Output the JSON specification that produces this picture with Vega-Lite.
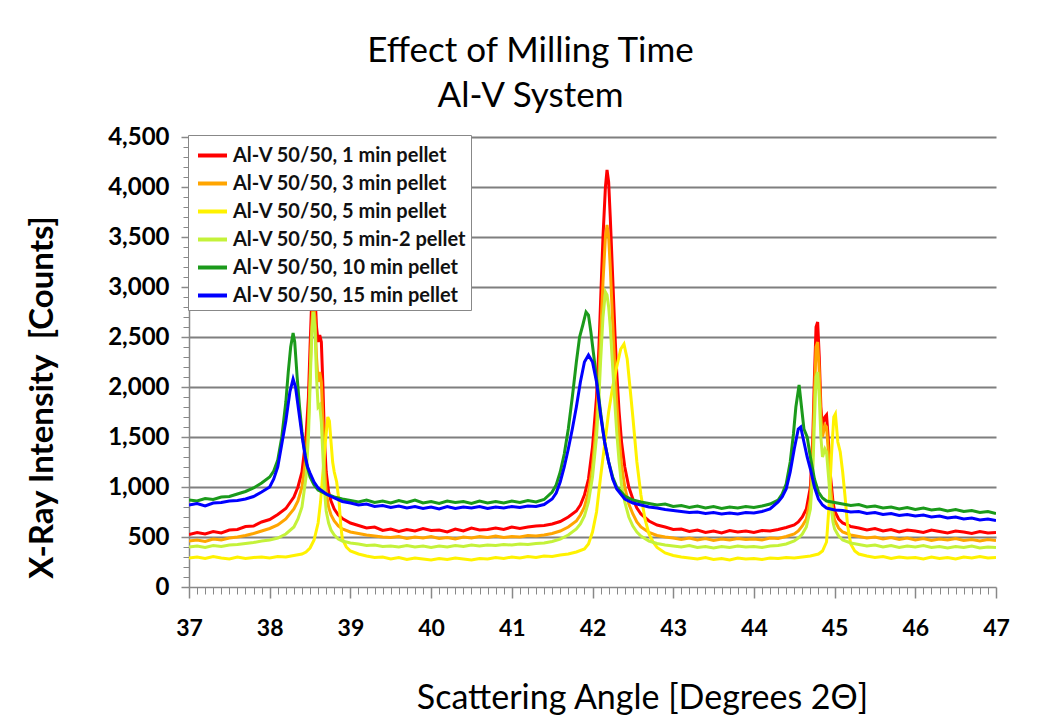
{
"$schema":"https://vega.github.io/schema/vega-lite/v6.json",
"width":807,"height":450,
"autosize":{"type":"none"},
"padding":{"left":189,"top":137,"right":44,"bottom":132},
"background":"#ffffff",
"config":{"view":{"stroke":null},"font":"Lato"},
"title":{"text":["Effect of Milling Time","Al-V System"],"font":"Lato","fontSize":35,"fontWeight":"normal","color":"#000","anchor":"middle","frame":"group","dx":-62,"baseline":"bottom","offset":-24,"lineHeight":45},
"datasets":{
"names":[{"id":"r","label":"Al-V 50/50, 1 min pellet"},{"id":"o","label":"Al-V 50/50, 3 min pellet"},{"id":"y","label":"Al-V 50/50, 5 min pellet"},{"id":"l","label":"Al-V 50/50, 5 min-2 pellet"},{"id":"g","label":"Al-V 50/50, 10 min pellet"},{"id":"b","label":"Al-V 50/50, 15 min pellet"}],
"pts":[
{"id":"r","angle":37,"counts":525},{"id":"r","angle":37.1,"counts":545},{"id":"r","angle":37.2,"counts":530},{"id":"r","angle":37.3,"counts":555},{"id":"r","angle":37.4,"counts":540},{"id":"r","angle":37.5,"counts":570},{"id":"r","angle":37.6,"counts":575},{"id":"r","angle":37.7,"counts":605},{"id":"r","angle":37.8,"counts":610},{"id":"r","angle":37.9,"counts":650},{"id":"r","angle":38,"counts":675},{"id":"r","angle":38.1,"counts":725},{"id":"r","angle":38.2,"counts":785},{"id":"r","angle":38.3,"counts":900},{"id":"r","angle":38.35,"counts":1000},{"id":"r","angle":38.4,"counts":1150},{"id":"r","angle":38.45,"counts":1500},{"id":"r","angle":38.48,"counts":1900},{"id":"r","angle":38.5,"counts":2400},{"id":"r","angle":38.52,"counts":2850},{"id":"r","angle":38.54,"counts":3000},{"id":"r","angle":38.56,"counts":2950},{"id":"r","angle":38.58,"counts":2600},{"id":"r","angle":38.6,"counts":2450},{"id":"r","angle":38.62,"counts":2520},{"id":"r","angle":38.64,"counts":2450},{"id":"r","angle":38.66,"counts":2000},{"id":"r","angle":38.68,"counts":1450},{"id":"r","angle":38.7,"counts":1150},{"id":"r","angle":38.73,"counts":950},{"id":"r","angle":38.76,"counts":860},{"id":"r","angle":38.8,"counts":780},{"id":"r","angle":38.85,"counts":720},{"id":"r","angle":38.9,"counts":685},{"id":"r","angle":39,"counts":640},{"id":"r","angle":39.1,"counts":615},{"id":"r","angle":39.2,"counts":590},{"id":"r","angle":39.3,"counts":600},{"id":"r","angle":39.4,"counts":565},{"id":"r","angle":39.5,"counts":580},{"id":"r","angle":39.6,"counts":555},{"id":"r","angle":39.7,"counts":575},{"id":"r","angle":39.8,"counts":560},{"id":"r","angle":39.9,"counts":585},{"id":"r","angle":40,"counts":565},{"id":"r","angle":40.1,"counts":570},{"id":"r","angle":40.2,"counts":550},{"id":"r","angle":40.3,"counts":580},{"id":"r","angle":40.4,"counts":560},{"id":"r","angle":40.5,"counts":590},{"id":"r","angle":40.6,"counts":570},{"id":"r","angle":40.7,"counts":575},{"id":"r","angle":40.8,"counts":590},{"id":"r","angle":40.9,"counts":575},{"id":"r","angle":41,"counts":600},{"id":"r","angle":41.1,"counts":585},{"id":"r","angle":41.2,"counts":600},{"id":"r","angle":41.3,"counts":610},{"id":"r","angle":41.4,"counts":615},{"id":"r","angle":41.5,"counts":630},{"id":"r","angle":41.6,"counts":655},{"id":"r","angle":41.7,"counts":700},{"id":"r","angle":41.8,"counts":760},{"id":"r","angle":41.85,"counts":820},{"id":"r","angle":41.9,"counts":920},{"id":"r","angle":41.95,"counts":1080},{"id":"r","angle":42,"counts":1400},{"id":"r","angle":42.05,"counts":1900},{"id":"r","angle":42.08,"counts":2400},{"id":"r","angle":42.1,"counts":2850},{"id":"r","angle":42.13,"counts":3500},{"id":"r","angle":42.16,"counts":4000},{"id":"r","angle":42.18,"counts":4170},{"id":"r","angle":42.2,"counts":4050},{"id":"r","angle":42.22,"counts":3700},{"id":"r","angle":42.25,"counts":3100},{"id":"r","angle":42.28,"counts":2500},{"id":"r","angle":42.3,"counts":2150},{"id":"r","angle":42.33,"counts":1750},{"id":"r","angle":42.36,"counts":1450},{"id":"r","angle":42.4,"counts":1200},{"id":"r","angle":42.45,"counts":1000},{"id":"r","angle":42.5,"counts":880},{"id":"r","angle":42.55,"counts":790},{"id":"r","angle":42.6,"counts":730},{"id":"r","angle":42.7,"counts":660},{"id":"r","angle":42.8,"counts":620},{"id":"r","angle":42.9,"counts":600},{"id":"r","angle":43,"counts":575},{"id":"r","angle":43.1,"counts":580},{"id":"r","angle":43.2,"counts":555},{"id":"r","angle":43.3,"counts":570},{"id":"r","angle":43.4,"counts":545},{"id":"r","angle":43.5,"counts":560},{"id":"r","angle":43.6,"counts":540},{"id":"r","angle":43.7,"counts":565},{"id":"r","angle":43.8,"counts":550},{"id":"r","angle":43.9,"counts":560},{"id":"r","angle":44,"counts":545},{"id":"r","angle":44.1,"counts":565},{"id":"r","angle":44.2,"counts":560},{"id":"r","angle":44.3,"counts":575},{"id":"r","angle":44.4,"counts":595},{"id":"r","angle":44.5,"counts":620},{"id":"r","angle":44.55,"counts":650},{"id":"r","angle":44.6,"counts":700},{"id":"r","angle":44.65,"counts":780},{"id":"r","angle":44.7,"counts":1000},{"id":"r","angle":44.73,"counts":1500},{"id":"r","angle":44.75,"counts":2100},{"id":"r","angle":44.77,"counts":2600},{"id":"r","angle":44.79,"counts":2650},{"id":"r","angle":44.81,"counts":2300},{"id":"r","angle":44.83,"counts":1800},{"id":"r","angle":44.85,"counts":1600},{"id":"r","angle":44.88,"counts":1700},{"id":"r","angle":44.9,"counts":1720},{"id":"r","angle":44.92,"counts":1500},{"id":"r","angle":44.95,"counts":1100},{"id":"r","angle":44.98,"counts":850},{"id":"r","angle":45,"counts":760},{"id":"r","angle":45.05,"counts":680},{"id":"r","angle":45.1,"counts":640},{"id":"r","angle":45.2,"counts":605},{"id":"r","angle":45.3,"counts":590},{"id":"r","angle":45.4,"counts":570},{"id":"r","angle":45.5,"counts":585},{"id":"r","angle":45.6,"counts":560},{"id":"r","angle":45.7,"counts":575},{"id":"r","angle":45.8,"counts":550},{"id":"r","angle":45.9,"counts":570},{"id":"r","angle":46,"counts":560},{"id":"r","angle":46.1,"counts":545},{"id":"r","angle":46.2,"counts":570},{"id":"r","angle":46.3,"counts":555},{"id":"r","angle":46.4,"counts":540},{"id":"r","angle":46.5,"counts":560},{"id":"r","angle":46.6,"counts":550},{"id":"r","angle":46.7,"counts":535},{"id":"r","angle":46.8,"counts":555},{"id":"r","angle":46.9,"counts":540},{"id":"r","angle":47,"counts":545},
{"id":"o","angle":37,"counts":460},{"id":"o","angle":37.1,"counts":470},{"id":"o","angle":37.2,"counts":455},{"id":"o","angle":37.3,"counts":480},{"id":"o","angle":37.4,"counts":470},{"id":"o","angle":37.5,"counts":490},{"id":"o","angle":37.6,"counts":500},{"id":"o","angle":37.7,"counts":515},{"id":"o","angle":37.8,"counts":535},{"id":"o","angle":37.9,"counts":560},{"id":"o","angle":38,"counts":585},{"id":"o","angle":38.1,"counts":620},{"id":"o","angle":38.2,"counts":680},{"id":"o","angle":38.3,"counts":780},{"id":"o","angle":38.35,"counts":860},{"id":"o","angle":38.4,"counts":1000},{"id":"o","angle":38.45,"counts":1300},{"id":"o","angle":38.48,"counts":1650},{"id":"o","angle":38.5,"counts":2100},{"id":"o","angle":38.52,"counts":2600},{"id":"o","angle":38.54,"counts":2850},{"id":"o","angle":38.56,"counts":2700},{"id":"o","angle":38.58,"counts":2300},{"id":"o","angle":38.6,"counts":2050},{"id":"o","angle":38.62,"counts":2150},{"id":"o","angle":38.64,"counts":2050},{"id":"o","angle":38.66,"counts":1650},{"id":"o","angle":38.68,"counts":1200},{"id":"o","angle":38.7,"counts":950},{"id":"o","angle":38.73,"counts":800},{"id":"o","angle":38.76,"counts":720},{"id":"o","angle":38.8,"counts":660},{"id":"o","angle":38.85,"counts":610},{"id":"o","angle":38.9,"counts":580},{"id":"o","angle":39,"counts":550},{"id":"o","angle":39.1,"counts":535},{"id":"o","angle":39.2,"counts":520},{"id":"o","angle":39.3,"counts":510},{"id":"o","angle":39.4,"counts":500},{"id":"o","angle":39.5,"counts":495},{"id":"o","angle":39.6,"counts":505},{"id":"o","angle":39.7,"counts":485},{"id":"o","angle":39.8,"counts":500},{"id":"o","angle":39.9,"counts":490},{"id":"o","angle":40,"counts":505},{"id":"o","angle":40.1,"counts":485},{"id":"o","angle":40.2,"counts":495},{"id":"o","angle":40.3,"counts":480},{"id":"o","angle":40.4,"counts":500},{"id":"o","angle":40.5,"counts":490},{"id":"o","angle":40.6,"counts":505},{"id":"o","angle":40.7,"counts":495},{"id":"o","angle":40.8,"counts":510},{"id":"o","angle":40.9,"counts":495},{"id":"o","angle":41,"counts":505},{"id":"o","angle":41.1,"counts":500},{"id":"o","angle":41.2,"counts":515},{"id":"o","angle":41.3,"counts":510},{"id":"o","angle":41.4,"counts":520},{"id":"o","angle":41.5,"counts":535},{"id":"o","angle":41.6,"counts":560},{"id":"o","angle":41.7,"counts":600},{"id":"o","angle":41.8,"counts":660},{"id":"o","angle":41.85,"counts":720},{"id":"o","angle":41.9,"counts":800},{"id":"o","angle":41.95,"counts":950},{"id":"o","angle":42,"counts":1200},{"id":"o","angle":42.05,"counts":1650},{"id":"o","angle":42.08,"counts":2100},{"id":"o","angle":42.1,"counts":2500},{"id":"o","angle":42.13,"counts":3050},{"id":"o","angle":42.16,"counts":3500},{"id":"o","angle":42.18,"counts":3620},{"id":"o","angle":42.2,"counts":3500},{"id":"o","angle":42.22,"counts":3200},{"id":"o","angle":42.25,"counts":2650},{"id":"o","angle":42.28,"counts":2150},{"id":"o","angle":42.3,"counts":1850},{"id":"o","angle":42.33,"counts":1500},{"id":"o","angle":42.36,"counts":1220},{"id":"o","angle":42.4,"counts":1000},{"id":"o","angle":42.45,"counts":830},{"id":"o","angle":42.5,"counts":730},{"id":"o","angle":42.55,"counts":650},{"id":"o","angle":42.6,"counts":600},{"id":"o","angle":42.7,"counts":545},{"id":"o","angle":42.8,"counts":515},{"id":"o","angle":42.9,"counts":500},{"id":"o","angle":43,"counts":490},{"id":"o","angle":43.1,"counts":475},{"id":"o","angle":43.2,"counts":490},{"id":"o","angle":43.3,"counts":470},{"id":"o","angle":43.4,"counts":485},{"id":"o","angle":43.5,"counts":465},{"id":"o","angle":43.6,"counts":480},{"id":"o","angle":43.7,"counts":470},{"id":"o","angle":43.8,"counts":485},{"id":"o","angle":43.9,"counts":475},{"id":"o","angle":44,"counts":480},{"id":"o","angle":44.1,"counts":470},{"id":"o","angle":44.2,"counts":490},{"id":"o","angle":44.3,"counts":485},{"id":"o","angle":44.4,"counts":505},{"id":"o","angle":44.5,"counts":530},{"id":"o","angle":44.55,"counts":560},{"id":"o","angle":44.6,"counts":610},{"id":"o","angle":44.65,"counts":680},{"id":"o","angle":44.7,"counts":880},{"id":"o","angle":44.73,"counts":1350},{"id":"o","angle":44.75,"counts":1900},{"id":"o","angle":44.77,"counts":2400},{"id":"o","angle":44.79,"counts":2450},{"id":"o","angle":44.81,"counts":2150},{"id":"o","angle":44.83,"counts":1700},{"id":"o","angle":44.85,"counts":1500},{"id":"o","angle":44.88,"counts":1620},{"id":"o","angle":44.9,"counts":1600},{"id":"o","angle":44.92,"counts":1380},{"id":"o","angle":44.95,"counts":1000},{"id":"o","angle":44.98,"counts":760},{"id":"o","angle":45,"counts":670},{"id":"o","angle":45.05,"counts":590},{"id":"o","angle":45.1,"counts":550},{"id":"o","angle":45.2,"counts":520},{"id":"o","angle":45.3,"counts":505},{"id":"o","angle":45.4,"counts":490},{"id":"o","angle":45.5,"counts":500},{"id":"o","angle":45.6,"counts":480},{"id":"o","angle":45.7,"counts":495},{"id":"o","angle":45.8,"counts":475},{"id":"o","angle":45.9,"counts":490},{"id":"o","angle":46,"counts":470},{"id":"o","angle":46.1,"counts":485},{"id":"o","angle":46.2,"counts":465},{"id":"o","angle":46.3,"counts":480},{"id":"o","angle":46.4,"counts":470},{"id":"o","angle":46.5,"counts":485},{"id":"o","angle":46.6,"counts":465},{"id":"o","angle":46.7,"counts":475},{"id":"o","angle":46.8,"counts":460},{"id":"o","angle":46.9,"counts":475},{"id":"o","angle":47,"counts":465},
{"id":"y","angle":37,"counts":290},{"id":"y","angle":37.1,"counts":300},{"id":"y","angle":37.2,"counts":285},{"id":"y","angle":37.3,"counts":305},{"id":"y","angle":37.4,"counts":290},{"id":"y","angle":37.5,"counts":280},{"id":"y","angle":37.6,"counts":300},{"id":"y","angle":37.7,"counts":285},{"id":"y","angle":37.8,"counts":295},{"id":"y","angle":37.9,"counts":300},{"id":"y","angle":38,"counts":290},{"id":"y","angle":38.1,"counts":305},{"id":"y","angle":38.2,"counts":300},{"id":"y","angle":38.3,"counts":315},{"id":"y","angle":38.4,"counts":330},{"id":"y","angle":38.45,"counts":350},{"id":"y","angle":38.5,"counts":390},{"id":"y","angle":38.55,"counts":470},{"id":"y","angle":38.6,"counts":640},{"id":"y","angle":38.63,"counts":850},{"id":"y","angle":38.66,"counts":1150},{"id":"y","angle":38.69,"counts":1450},{"id":"y","angle":38.72,"counts":1700},{"id":"y","angle":38.74,"counts":1660},{"id":"y","angle":38.76,"counts":1450},{"id":"y","angle":38.78,"counts":1250},{"id":"y","angle":38.8,"counts":1150},{"id":"y","angle":38.83,"counts":1050},{"id":"y","angle":38.86,"counts":850},{"id":"y","angle":38.88,"counts":620},{"id":"y","angle":38.9,"counts":480},{"id":"y","angle":38.95,"counts":400},{"id":"y","angle":39,"counts":360},{"id":"y","angle":39.1,"counts":330},{"id":"y","angle":39.2,"counts":310},{"id":"y","angle":39.3,"counts":295},{"id":"y","angle":39.4,"counts":300},{"id":"y","angle":39.5,"counts":280},{"id":"y","angle":39.6,"counts":295},{"id":"y","angle":39.7,"counts":275},{"id":"y","angle":39.8,"counts":290},{"id":"y","angle":39.9,"counts":280},{"id":"y","angle":40,"counts":270},{"id":"y","angle":40.1,"counts":285},{"id":"y","angle":40.2,"counts":275},{"id":"y","angle":40.3,"counts":290},{"id":"y","angle":40.4,"counts":280},{"id":"y","angle":40.5,"counts":270},{"id":"y","angle":40.6,"counts":285},{"id":"y","angle":40.7,"counts":280},{"id":"y","angle":40.8,"counts":295},{"id":"y","angle":40.9,"counts":285},{"id":"y","angle":41,"counts":300},{"id":"y","angle":41.1,"counts":290},{"id":"y","angle":41.2,"counts":305},{"id":"y","angle":41.3,"counts":295},{"id":"y","angle":41.4,"counts":310},{"id":"y","angle":41.5,"counts":305},{"id":"y","angle":41.6,"counts":320},{"id":"y","angle":41.7,"counts":330},{"id":"y","angle":41.8,"counts":350},{"id":"y","angle":41.9,"counts":380},{"id":"y","angle":41.95,"counts":430},{"id":"y","angle":42,"counts":550},{"id":"y","angle":42.05,"counts":750},{"id":"y","angle":42.1,"counts":1100},{"id":"y","angle":42.15,"counts":1420},{"id":"y","angle":42.2,"counts":1750},{"id":"y","angle":42.25,"counts":2000},{"id":"y","angle":42.3,"counts":2200},{"id":"y","angle":42.35,"counts":2380},{"id":"y","angle":42.39,"counts":2430},{"id":"y","angle":42.43,"counts":2280},{"id":"y","angle":42.47,"counts":1950},{"id":"y","angle":42.5,"counts":1700},{"id":"y","angle":42.55,"counts":1250},{"id":"y","angle":42.6,"counts":920},{"id":"y","angle":42.65,"counts":680},{"id":"y","angle":42.7,"counts":530},{"id":"y","angle":42.75,"counts":450},{"id":"y","angle":42.8,"counts":395},{"id":"y","angle":42.9,"counts":340},{"id":"y","angle":43,"counts":315},{"id":"y","angle":43.1,"counts":300},{"id":"y","angle":43.2,"counts":290},{"id":"y","angle":43.3,"counts":280},{"id":"y","angle":43.4,"counts":295},{"id":"y","angle":43.5,"counts":275},{"id":"y","angle":43.6,"counts":285},{"id":"y","angle":43.7,"counts":270},{"id":"y","angle":43.8,"counts":290},{"id":"y","angle":43.9,"counts":280},{"id":"y","angle":44,"counts":285},{"id":"y","angle":44.1,"counts":275},{"id":"y","angle":44.2,"counts":290},{"id":"y","angle":44.3,"counts":285},{"id":"y","angle":44.4,"counts":295},{"id":"y","angle":44.5,"counts":290},{"id":"y","angle":44.6,"counts":300},{"id":"y","angle":44.7,"counts":310},{"id":"y","angle":44.8,"counts":330},{"id":"y","angle":44.85,"counts":360},{"id":"y","angle":44.9,"counts":450},{"id":"y","angle":44.93,"counts":800},{"id":"y","angle":44.96,"counts":1300},{"id":"y","angle":44.99,"counts":1700},{"id":"y","angle":45.01,"counts":1730},{"id":"y","angle":45.04,"counts":1450},{"id":"y","angle":45.07,"counts":1350},{"id":"y","angle":45.1,"counts":1150},{"id":"y","angle":45.13,"counts":900},{"id":"y","angle":45.16,"counts":620},{"id":"y","angle":45.2,"counts":430},{"id":"y","angle":45.25,"counts":360},{"id":"y","angle":45.3,"counts":330},{"id":"y","angle":45.4,"counts":310},{"id":"y","angle":45.5,"counts":295},{"id":"y","angle":45.6,"counts":305},{"id":"y","angle":45.7,"counts":285},{"id":"y","angle":45.8,"counts":300},{"id":"y","angle":45.9,"counts":290},{"id":"y","angle":46,"counts":295},{"id":"y","angle":46.1,"counts":280},{"id":"y","angle":46.2,"counts":300},{"id":"y","angle":46.3,"counts":285},{"id":"y","angle":46.4,"counts":295},{"id":"y","angle":46.5,"counts":280},{"id":"y","angle":46.6,"counts":300},{"id":"y","angle":46.7,"counts":290},{"id":"y","angle":46.8,"counts":305},{"id":"y","angle":46.9,"counts":290},{"id":"y","angle":47,"counts":295},
{"id":"l","angle":37,"counts":400},{"id":"l","angle":37.1,"counts":410},{"id":"l","angle":37.2,"counts":395},{"id":"l","angle":37.3,"counts":415},{"id":"l","angle":37.4,"counts":405},{"id":"l","angle":37.5,"counts":420},{"id":"l","angle":37.6,"counts":425},{"id":"l","angle":37.7,"counts":435},{"id":"l","angle":37.8,"counts":445},{"id":"l","angle":37.9,"counts":460},{"id":"l","angle":38,"counts":470},{"id":"l","angle":38.1,"counts":490},{"id":"l","angle":38.2,"counts":530},{"id":"l","angle":38.3,"counts":600},{"id":"l","angle":38.35,"counts":680},{"id":"l","angle":38.4,"counts":800},{"id":"l","angle":38.45,"counts":1100},{"id":"l","angle":38.48,"counts":1500},{"id":"l","angle":38.5,"counts":2000},{"id":"l","angle":38.52,"counts":2500},{"id":"l","angle":38.54,"counts":2750},{"id":"l","angle":38.56,"counts":2600},{"id":"l","angle":38.58,"counts":2100},{"id":"l","angle":38.6,"counts":1800},{"id":"l","angle":38.62,"counts":1820},{"id":"l","angle":38.64,"counts":1650},{"id":"l","angle":38.66,"counts":1300},{"id":"l","angle":38.68,"counts":950},{"id":"l","angle":38.7,"counts":760},{"id":"l","angle":38.73,"counts":640},{"id":"l","angle":38.76,"counts":570},{"id":"l","angle":38.8,"counts":520},{"id":"l","angle":38.85,"counts":480},{"id":"l","angle":38.9,"counts":460},{"id":"l","angle":39,"counts":440},{"id":"l","angle":39.1,"counts":430},{"id":"l","angle":39.2,"counts":415},{"id":"l","angle":39.3,"counts":420},{"id":"l","angle":39.4,"counts":405},{"id":"l","angle":39.5,"counts":410},{"id":"l","angle":39.6,"counts":400},{"id":"l","angle":39.7,"counts":415},{"id":"l","angle":39.8,"counts":400},{"id":"l","angle":39.9,"counts":410},{"id":"l","angle":40,"counts":395},{"id":"l","angle":40.1,"counts":410},{"id":"l","angle":40.2,"counts":400},{"id":"l","angle":40.3,"counts":415},{"id":"l","angle":40.4,"counts":405},{"id":"l","angle":40.5,"counts":420},{"id":"l","angle":40.6,"counts":410},{"id":"l","angle":40.7,"counts":420},{"id":"l","angle":40.8,"counts":415},{"id":"l","angle":40.9,"counts":425},{"id":"l","angle":41,"counts":420},{"id":"l","angle":41.1,"counts":430},{"id":"l","angle":41.2,"counts":425},{"id":"l","angle":41.3,"counts":435},{"id":"l","angle":41.4,"counts":440},{"id":"l","angle":41.5,"counts":455},{"id":"l","angle":41.6,"counts":480},{"id":"l","angle":41.7,"counts":520},{"id":"l","angle":41.8,"counts":580},{"id":"l","angle":41.85,"counts":630},{"id":"l","angle":41.9,"counts":710},{"id":"l","angle":41.95,"counts":850},{"id":"l","angle":42,"counts":1100},{"id":"l","angle":42.05,"counts":1500},{"id":"l","angle":42.08,"counts":1900},{"id":"l","angle":42.1,"counts":2250},{"id":"l","angle":42.13,"counts":2700},{"id":"l","angle":42.16,"counts":2950},{"id":"l","angle":42.18,"counts":2920},{"id":"l","angle":42.2,"counts":2800},{"id":"l","angle":42.22,"counts":2600},{"id":"l","angle":42.25,"counts":2200},{"id":"l","angle":42.28,"counts":1800},{"id":"l","angle":42.3,"counts":1550},{"id":"l","angle":42.33,"counts":1250},{"id":"l","angle":42.36,"counts":1020},{"id":"l","angle":42.4,"counts":850},{"id":"l","angle":42.45,"counts":700},{"id":"l","angle":42.5,"counts":610},{"id":"l","angle":42.55,"counts":550},{"id":"l","angle":42.6,"counts":510},{"id":"l","angle":42.7,"counts":460},{"id":"l","angle":42.8,"counts":435},{"id":"l","angle":42.9,"counts":420},{"id":"l","angle":43,"counts":410},{"id":"l","angle":43.1,"counts":400},{"id":"l","angle":43.2,"counts":415},{"id":"l","angle":43.3,"counts":395},{"id":"l","angle":43.4,"counts":405},{"id":"l","angle":43.5,"counts":390},{"id":"l","angle":43.6,"counts":405},{"id":"l","angle":43.7,"counts":395},{"id":"l","angle":43.8,"counts":410},{"id":"l","angle":43.9,"counts":400},{"id":"l","angle":44,"counts":405},{"id":"l","angle":44.1,"counts":395},{"id":"l","angle":44.2,"counts":410},{"id":"l","angle":44.3,"counts":415},{"id":"l","angle":44.4,"counts":430},{"id":"l","angle":44.5,"counts":460},{"id":"l","angle":44.55,"counts":490},{"id":"l","angle":44.6,"counts":530},{"id":"l","angle":44.65,"counts":600},{"id":"l","angle":44.7,"counts":780},{"id":"l","angle":44.73,"counts":1150},{"id":"l","angle":44.75,"counts":1650},{"id":"l","angle":44.77,"counts":2100},{"id":"l","angle":44.79,"counts":2150},{"id":"l","angle":44.81,"counts":1900},{"id":"l","angle":44.83,"counts":1500},{"id":"l","angle":44.85,"counts":1300},{"id":"l","angle":44.88,"counts":1380},{"id":"l","angle":44.9,"counts":1350},{"id":"l","angle":44.92,"counts":1150},{"id":"l","angle":44.95,"counts":850},{"id":"l","angle":44.98,"counts":650},{"id":"l","angle":45,"counts":580},{"id":"l","angle":45.05,"counts":510},{"id":"l","angle":45.1,"counts":470},{"id":"l","angle":45.2,"counts":440},{"id":"l","angle":45.3,"counts":425},{"id":"l","angle":45.4,"counts":410},{"id":"l","angle":45.5,"counts":420},{"id":"l","angle":45.6,"counts":400},{"id":"l","angle":45.7,"counts":415},{"id":"l","angle":45.8,"counts":395},{"id":"l","angle":45.9,"counts":410},{"id":"l","angle":46,"counts":400},{"id":"l","angle":46.1,"counts":415},{"id":"l","angle":46.2,"counts":395},{"id":"l","angle":46.3,"counts":405},{"id":"l","angle":46.4,"counts":390},{"id":"l","angle":46.5,"counts":405},{"id":"l","angle":46.6,"counts":395},{"id":"l","angle":46.7,"counts":410},{"id":"l","angle":46.8,"counts":390},{"id":"l","angle":46.9,"counts":400},{"id":"l","angle":47,"counts":395},
{"id":"g","angle":37,"counts":870},{"id":"g","angle":37.1,"counts":860},{"id":"g","angle":37.2,"counts":885},{"id":"g","angle":37.3,"counts":875},{"id":"g","angle":37.4,"counts":900},{"id":"g","angle":37.5,"counts":905},{"id":"g","angle":37.6,"counts":930},{"id":"g","angle":37.7,"counts":955},{"id":"g","angle":37.8,"counts":990},{"id":"g","angle":37.9,"counts":1040},{"id":"g","angle":38,"counts":1100},{"id":"g","angle":38.05,"counts":1160},{"id":"g","angle":38.1,"counts":1270},{"id":"g","angle":38.15,"counts":1500},{"id":"g","angle":38.2,"counts":1850},{"id":"g","angle":38.23,"counts":2150},{"id":"g","angle":38.26,"counts":2400},{"id":"g","angle":38.29,"counts":2540},{"id":"g","angle":38.31,"counts":2450},{"id":"g","angle":38.34,"counts":2100},{"id":"g","angle":38.37,"counts":1800},{"id":"g","angle":38.4,"counts":1550},{"id":"g","angle":38.45,"counts":1250},{"id":"g","angle":38.5,"counts":1100},{"id":"g","angle":38.55,"counts":1020},{"id":"g","angle":38.6,"counts":970},{"id":"g","angle":38.7,"counts":930},{"id":"g","angle":38.8,"counts":900},{"id":"g","angle":38.9,"counts":880},{"id":"g","angle":39,"counts":865},{"id":"g","angle":39.1,"counts":850},{"id":"g","angle":39.2,"counts":870},{"id":"g","angle":39.3,"counts":845},{"id":"g","angle":39.4,"counts":860},{"id":"g","angle":39.5,"counts":840},{"id":"g","angle":39.6,"counts":865},{"id":"g","angle":39.7,"counts":845},{"id":"g","angle":39.8,"counts":870},{"id":"g","angle":39.9,"counts":840},{"id":"g","angle":40,"counts":855},{"id":"g","angle":40.1,"counts":835},{"id":"g","angle":40.2,"counts":860},{"id":"g","angle":40.3,"counts":845},{"id":"g","angle":40.4,"counts":855},{"id":"g","angle":40.5,"counts":835},{"id":"g","angle":40.6,"counts":860},{"id":"g","angle":40.7,"counts":840},{"id":"g","angle":40.8,"counts":855},{"id":"g","angle":40.9,"counts":840},{"id":"g","angle":41,"counts":860},{"id":"g","angle":41.1,"counts":845},{"id":"g","angle":41.2,"counts":865},{"id":"g","angle":41.3,"counts":850},{"id":"g","angle":41.4,"counts":875},{"id":"g","angle":41.5,"counts":950},{"id":"g","angle":41.55,"counts":1020},{"id":"g","angle":41.6,"counts":1150},{"id":"g","angle":41.65,"counts":1330},{"id":"g","angle":41.7,"counts":1580},{"id":"g","angle":41.75,"counts":1900},{"id":"g","angle":41.8,"counts":2250},{"id":"g","angle":41.84,"counts":2500},{"id":"g","angle":41.88,"counts":2620},{"id":"g","angle":41.92,"counts":2750},{"id":"g","angle":41.95,"counts":2720},{"id":"g","angle":41.98,"counts":2550},{"id":"g","angle":42.01,"counts":2350},{"id":"g","angle":42.04,"counts":2150},{"id":"g","angle":42.07,"counts":1950},{"id":"g","angle":42.1,"counts":1750},{"id":"g","angle":42.15,"counts":1450},{"id":"g","angle":42.2,"counts":1250},{"id":"g","angle":42.25,"counts":1100},{"id":"g","angle":42.3,"counts":1000},{"id":"g","angle":42.4,"counts":910},{"id":"g","angle":42.5,"counts":870},{"id":"g","angle":42.6,"counts":850},{"id":"g","angle":42.7,"counts":835},{"id":"g","angle":42.8,"counts":820},{"id":"g","angle":42.9,"counts":830},{"id":"g","angle":43,"counts":805},{"id":"g","angle":43.1,"counts":815},{"id":"g","angle":43.2,"counts":795},{"id":"g","angle":43.3,"counts":810},{"id":"g","angle":43.4,"counts":790},{"id":"g","angle":43.5,"counts":805},{"id":"g","angle":43.6,"counts":785},{"id":"g","angle":43.7,"counts":800},{"id":"g","angle":43.8,"counts":790},{"id":"g","angle":43.9,"counts":805},{"id":"g","angle":44,"counts":795},{"id":"g","angle":44.1,"counts":810},{"id":"g","angle":44.2,"counts":830},{"id":"g","angle":44.3,"counts":870},{"id":"g","angle":44.35,"counts":930},{"id":"g","angle":44.4,"counts":1030},{"id":"g","angle":44.45,"counts":1250},{"id":"g","angle":44.49,"counts":1530},{"id":"g","angle":44.52,"counts":1800},{"id":"g","angle":44.56,"counts":2020},{"id":"g","angle":44.59,"counts":1800},{"id":"g","angle":44.62,"counts":1580},{"id":"g","angle":44.66,"counts":1500},{"id":"g","angle":44.7,"counts":1300},{"id":"g","angle":44.75,"counts":1080},{"id":"g","angle":44.8,"counts":950},{"id":"g","angle":44.85,"counts":890},{"id":"g","angle":44.9,"counts":860},{"id":"g","angle":45,"counts":845},{"id":"g","angle":45.1,"counts":830},{"id":"g","angle":45.2,"counts":815},{"id":"g","angle":45.3,"counts":825},{"id":"g","angle":45.4,"counts":800},{"id":"g","angle":45.5,"counts":810},{"id":"g","angle":45.6,"counts":790},{"id":"g","angle":45.7,"counts":800},{"id":"g","angle":45.8,"counts":780},{"id":"g","angle":45.9,"counts":795},{"id":"g","angle":46,"counts":775},{"id":"g","angle":46.1,"counts":790},{"id":"g","angle":46.2,"counts":770},{"id":"g","angle":46.3,"counts":780},{"id":"g","angle":46.4,"counts":760},{"id":"g","angle":46.5,"counts":775},{"id":"g","angle":46.6,"counts":755},{"id":"g","angle":46.7,"counts":765},{"id":"g","angle":46.8,"counts":745},{"id":"g","angle":46.9,"counts":755},{"id":"g","angle":47,"counts":735},
{"id":"b","angle":37,"counts":820},{"id":"b","angle":37.1,"counts":835},{"id":"b","angle":37.2,"counts":810},{"id":"b","angle":37.3,"counts":840},{"id":"b","angle":37.4,"counts":845},{"id":"b","angle":37.5,"counts":860},{"id":"b","angle":37.6,"counts":865},{"id":"b","angle":37.7,"counts":880},{"id":"b","angle":37.8,"counts":905},{"id":"b","angle":37.9,"counts":950},{"id":"b","angle":38,"counts":1000},{"id":"b","angle":38.05,"counts":1080},{"id":"b","angle":38.1,"counts":1200},{"id":"b","angle":38.15,"counts":1430},{"id":"b","angle":38.2,"counts":1660},{"id":"b","angle":38.25,"counts":1950},{"id":"b","angle":38.29,"counts":2080},{"id":"b","angle":38.32,"counts":2000},{"id":"b","angle":38.35,"counts":1820},{"id":"b","angle":38.38,"counts":1640},{"id":"b","angle":38.41,"counts":1460},{"id":"b","angle":38.44,"counts":1310},{"id":"b","angle":38.47,"counts":1200},{"id":"b","angle":38.5,"counts":1140},{"id":"b","angle":38.55,"counts":1050},{"id":"b","angle":38.6,"counts":990},{"id":"b","angle":38.7,"counts":930},{"id":"b","angle":38.8,"counts":890},{"id":"b","angle":38.9,"counts":855},{"id":"b","angle":39,"counts":840},{"id":"b","angle":39.1,"counts":820},{"id":"b","angle":39.2,"counts":830},{"id":"b","angle":39.3,"counts":805},{"id":"b","angle":39.4,"counts":815},{"id":"b","angle":39.5,"counts":795},{"id":"b","angle":39.6,"counts":810},{"id":"b","angle":39.7,"counts":790},{"id":"b","angle":39.8,"counts":805},{"id":"b","angle":39.9,"counts":785},{"id":"b","angle":40,"counts":800},{"id":"b","angle":40.1,"counts":780},{"id":"b","angle":40.2,"counts":805},{"id":"b","angle":40.3,"counts":785},{"id":"b","angle":40.4,"counts":800},{"id":"b","angle":40.5,"counts":790},{"id":"b","angle":40.6,"counts":805},{"id":"b","angle":40.7,"counts":785},{"id":"b","angle":40.8,"counts":800},{"id":"b","angle":40.9,"counts":790},{"id":"b","angle":41,"counts":805},{"id":"b","angle":41.1,"counts":795},{"id":"b","angle":41.2,"counts":810},{"id":"b","angle":41.3,"counts":805},{"id":"b","angle":41.4,"counts":825},{"id":"b","angle":41.5,"counts":880},{"id":"b","angle":41.55,"counts":940},{"id":"b","angle":41.6,"counts":1050},{"id":"b","angle":41.65,"counts":1200},{"id":"b","angle":41.7,"counts":1380},{"id":"b","angle":41.75,"counts":1580},{"id":"b","angle":41.8,"counts":1800},{"id":"b","angle":41.85,"counts":2050},{"id":"b","angle":41.9,"counts":2250},{"id":"b","angle":41.95,"counts":2320},{"id":"b","angle":42,"counts":2250},{"id":"b","angle":42.05,"counts":2050},{"id":"b","angle":42.1,"counts":1720},{"id":"b","angle":42.15,"counts":1450},{"id":"b","angle":42.2,"counts":1250},{"id":"b","angle":42.25,"counts":1080},{"id":"b","angle":42.3,"counts":980},{"id":"b","angle":42.4,"counts":880},{"id":"b","angle":42.5,"counts":840},{"id":"b","angle":42.6,"counts":820},{"id":"b","angle":42.7,"counts":800},{"id":"b","angle":42.8,"counts":790},{"id":"b","angle":42.9,"counts":775},{"id":"b","angle":43,"counts":765},{"id":"b","angle":43.1,"counts":755},{"id":"b","angle":43.2,"counts":745},{"id":"b","angle":43.3,"counts":750},{"id":"b","angle":43.4,"counts":735},{"id":"b","angle":43.5,"counts":745},{"id":"b","angle":43.6,"counts":730},{"id":"b","angle":43.7,"counts":740},{"id":"b","angle":43.8,"counts":730},{"id":"b","angle":43.9,"counts":745},{"id":"b","angle":44,"counts":740},{"id":"b","angle":44.1,"counts":755},{"id":"b","angle":44.2,"counts":780},{"id":"b","angle":44.3,"counts":850},{"id":"b","angle":44.35,"counts":900},{"id":"b","angle":44.4,"counts":980},{"id":"b","angle":44.45,"counts":1150},{"id":"b","angle":44.5,"counts":1380},{"id":"b","angle":44.55,"counts":1580},{"id":"b","angle":44.58,"counts":1600},{"id":"b","angle":44.62,"counts":1450},{"id":"b","angle":44.66,"counts":1300},{"id":"b","angle":44.7,"counts":1180},{"id":"b","angle":44.75,"counts":1000},{"id":"b","angle":44.8,"counts":880},{"id":"b","angle":44.85,"counts":820},{"id":"b","angle":44.9,"counts":790},{"id":"b","angle":45,"counts":770},{"id":"b","angle":45.1,"counts":765},{"id":"b","angle":45.2,"counts":750},{"id":"b","angle":45.3,"counts":755},{"id":"b","angle":45.4,"counts":735},{"id":"b","angle":45.5,"counts":745},{"id":"b","angle":45.6,"counts":725},{"id":"b","angle":45.7,"counts":735},{"id":"b","angle":45.8,"counts":715},{"id":"b","angle":45.9,"counts":725},{"id":"b","angle":46,"counts":710},{"id":"b","angle":46.1,"counts":720},{"id":"b","angle":46.2,"counts":700},{"id":"b","angle":46.3,"counts":710},{"id":"b","angle":46.4,"counts":690},{"id":"b","angle":46.5,"counts":700},{"id":"b","angle":46.6,"counts":680},{"id":"b","angle":46.7,"counts":690},{"id":"b","angle":46.8,"counts":670},{"id":"b","angle":46.9,"counts":680},{"id":"b","angle":47,"counts":665}
]},
"data":{"name":"pts"},
"transform":[{"lookup":"id","from":{"data":{"name":"names"},"key":"id","fields":["label"]}}],
"mark":{"type":"line","strokeWidth":3,"clip":true},
"encoding":{
 "x":{"field":"angle","type":"quantitative","scale":{"domain":[37,47],"nice":false,"zero":false},
  "axis":{"orient":"bottom","values":[37,37.1,37.2,37.3,37.4,37.5,37.6,37.7,37.8,37.9,38,38.1,38.2,38.3,38.4,38.5,38.6,38.7,38.8,38.9,39,39.1,39.2,39.3,39.4,39.5,39.6,39.7,39.8,39.9,40,40.1,40.2,40.3,40.4,40.5,40.6,40.7,40.8,40.9,41,41.1,41.2,41.3,41.4,41.5,41.6,41.7,41.8,41.9,42,42.1,42.2,42.3,42.4,42.5,42.6,42.7,42.8,42.9,43,43.1,43.2,43.3,43.4,43.5,43.6,43.7,43.8,43.9,44,44.1,44.2,44.3,44.4,44.5,44.6,44.7,44.8,44.9,45,45.1,45.2,45.3,45.4,45.5,45.6,45.7,45.8,45.9,46,46.1,46.2,46.3,46.4,46.5,46.6,46.7,46.8,46.9,47],
   "labelExpr":"datum.value % 1 === 0 ? format(datum.value, 'd') : ''",
   "labelFlush":false,"labelOverlap":false,
   "tickSize":{"condition":{"test":"datum.value % 1 === 0","value":11},"value":7},
   "tickColor":"#888888","tickWidth":{"condition":{"test":"datum.value % 1 === 0","value":1.5},"value":1},
   "domainColor":"#888888","domainWidth":1.5,"grid":false,
   "labelFont":"Lato","labelFontWeight":"bold","labelFontSize":23,"labelColor":"#000000","labelPadding":19,
   "title":"Scattering Angle [Degrees 2Θ]","titleFont":"Lato","titleFontSize":34,"titleFontWeight":"normal","titleColor":"#000000","titleX":453,"titleY":111,"titleBaseline":"middle"}},
 "y":{"field":"counts","type":"quantitative","scale":{"domain":[0,4500],"nice":false},
  "axis":{"orient":"left","values":[0,100,200,300,400,500,600,700,800,900,1000,1100,1200,1300,1400,1500,1600,1700,1800,1900,2000,2100,2200,2300,2400,2500,2600,2700,2800,2900,3000,3100,3200,3300,3400,3500,3600,3700,3800,3900,4000,4100,4200,4300,4400,4500],
   "labelExpr":"datum.value % 500 === 0 ? format(datum.value, ',') : ''",
   "labelFlush":false,"labelOverlap":false,
   "tickSize":{"condition":{"test":"datum.value % 500 === 0","value":8},"value":6},
   "tickColor":"#888888","tickWidth":{"condition":{"test":"datum.value % 500 === 0","value":1.5},"value":1},
   "domainColor":"#888888","domainWidth":1.5,
   "grid":true,"gridColor":"#7f7f7f","gridWidth":2,"gridOpacity":{"condition":{"test":"datum.value % 500 === 0 && datum.value > 0","value":1},"value":0},
   "labelFont":"Lato","labelFontWeight":"bold","labelFontSize":24,"labelColor":"#000000","labelPadding":12,
   "title":"X-Ray Intensity\u00a0\u00a0[Counts]","titleFont":"Lato","titleFontSize":33,"titleFontWeight":"bold","titleColor":"#000000","titleX":-147,"titleY":260,"titleBaseline":"middle"}},
 "color":{"field":"label","type":"nominal",
  "scale":{"domain":["Al-V 50/50, 1 min pellet","Al-V 50/50, 3 min pellet","Al-V 50/50, 5 min pellet","Al-V 50/50, 5 min-2 pellet","Al-V 50/50, 10 min pellet","Al-V 50/50, 15 min pellet"],"range":["#ff0000","#ffa500","#fff200","#c4f23a","#1b9a1b","#0000ff"]},
  "legend":{"orient":"none","legendX":-1,"legendY":-2,"title":null,"symbolType":"stroke","symbolSize":841,"symbolStrokeWidth":4,"symbolOffset":4,"labelFont":"Lato","labelFontSize":20,"labelFontWeight":"bold","labelColor":"#111111","labelOffset":4,"labelLimit":400,"strokeColor":"#888888","fillColor":"#ffffff","padding":4,"rowPadding":1,"zindex":1}}
}
}
